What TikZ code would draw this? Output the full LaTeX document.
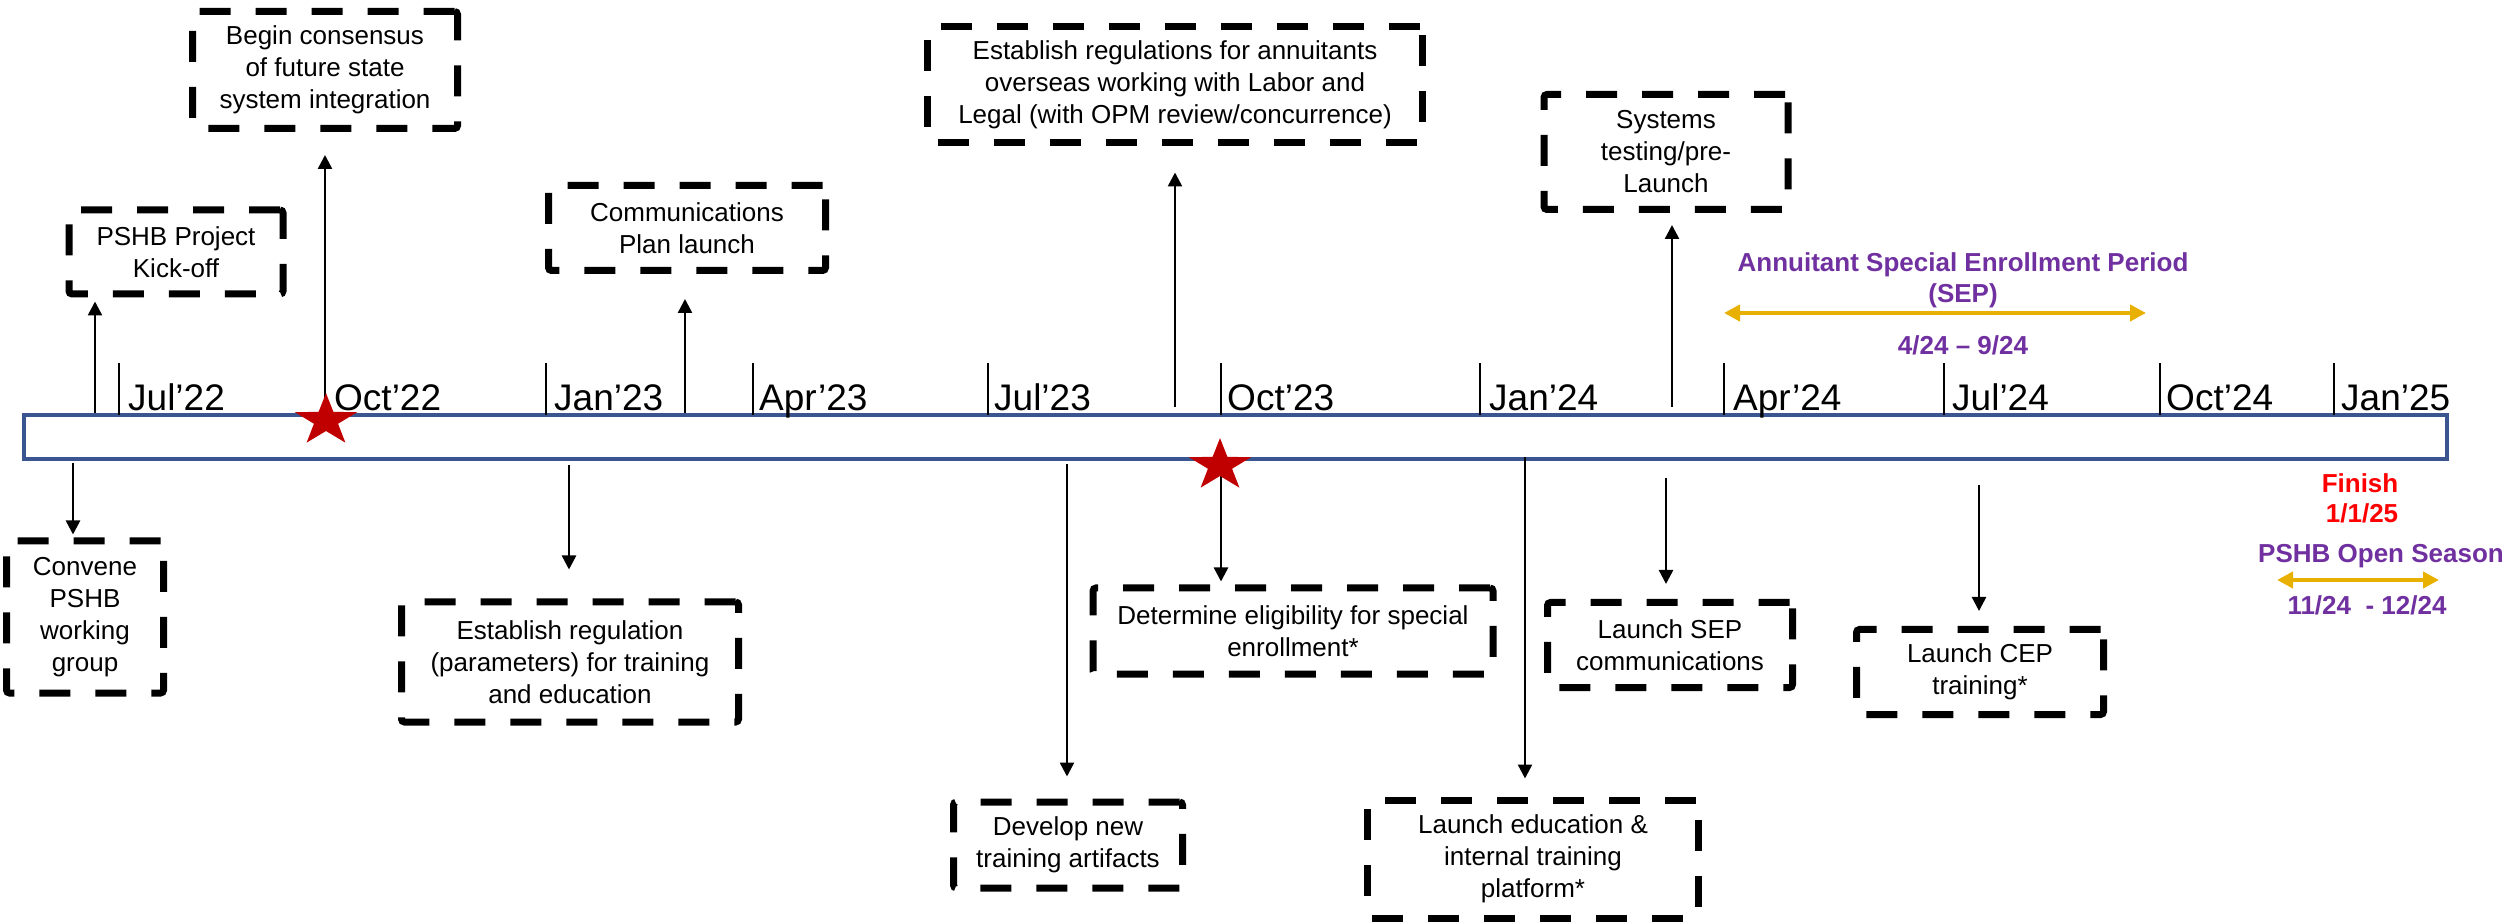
\documentclass[tikz,border=0pt]{standalone}
\usepackage{fontspec}
\setmainfont{Liberation Sans}
\usetikzlibrary{arrows.meta,shapes.geometric,calc}
\definecolor{barblue}{HTML}{3A5590}
\definecolor{starred}{HTML}{C00000}
\definecolor{seppurple}{HTML}{7030A0}
\definecolor{periodgold}{HTML}{E8B000}
\tikzset{
    timebar/.style={draw=barblue, line width=4pt, fill=white, minimum width=2423pt, minimum height=44pt, inner sep=0pt},
    monthtick/.style={line width=2.75pt},
    month/.style={anchor=base west, inner sep=0pt, font=\fontsize{37}{44}\selectfont},
    milestone/.style={draw, line width=7pt, dash pattern=on 31pt off 25pt, rounded corners=3pt, align=center, inner sep=0pt, font=\fontsize{26}{32}\selectfont},
    event/.style={->, >={Triangle[length=14pt, width=14pt]}, line width=2.5pt},
    redstar/.style={star, star points=5, star point ratio=2.6, fill=starred, minimum size=66pt, inner sep=0pt, transform shape},
    period/.style={<->, >={Triangle[length=16pt, width=16pt]}, line width=4pt, periodgold},
    note/.style={anchor=base, inner sep=0pt, font=\bfseries\fontsize{26}{32}\selectfont, seppurple}
}
\begin{document}
\begin{tikzpicture}[x=1pt, y=1pt]
\useasboundingbox (0,0) rectangle (2509,922);

% time line
\node[timebar] (bar) at (1235.5,485) {};

% quarters
\draw[monthtick] (119,507) -- (119,559);
\node[month] (jul22) at (128,511) {Jul’22};
\node[month] (oct22) at (334,511) {Oct’22};
\draw[monthtick] (546,507) -- (546,559);
\node[month] (jan23) at (554,511) {Jan’23};
\draw[monthtick] (753,507) -- (753,559);
\node[month] (apr23) at (759,511) {Apr’23};
\draw[monthtick] (988,507) -- (988,559);
\node[month] (jul23) at (994,511) {Jul’23};
\draw[monthtick] (1221,507) -- (1221,559);
\node[month] (oct23) at (1227,511) {Oct’23};
\draw[monthtick] (1480,507) -- (1480,559);
\node[month] (jan24) at (1489,511) {Jan’24};
\draw[monthtick] (1724,507) -- (1724,559);
\node[month] (apr24) at (1733,511) {Apr’24};
\draw[monthtick] (1944,507) -- (1944,559);
\node[month] (jul24) at (1952,511) {Jul’24};
\draw[monthtick] (2160,507) -- (2160,559);
\node[month] (oct24) at (2166,511) {Oct’24};
\draw[monthtick] (2334,507) -- (2334,559);
\node[month] (jan25) at (2341,511) {Jan’25};

% milestones above the line
\node[milestone, minimum width=265pt, minimum height=117pt] (consensus) at (325,852) {Begin consensus\\of future state\\system integration};
\node[milestone, minimum width=214pt, minimum height=84pt] (kickoff) at (176,670) {PSHB Project\\Kick-off};
\node[milestone, minimum width=277pt, minimum height=85pt] (comms) at (687,694) {Communications\\Plan launch};
\node[milestone, minimum width=495pt, minimum height=116pt] (annuitants) at (1175,837) {Establish regulations for annuitants\\overseas working with Labor and\\Legal (with OPM review/concurrence)};
\node[milestone, minimum width=244pt, minimum height=115pt] (systems) at (1666,770) {Systems\\testing/pre-\\Launch};

% milestones below the line
\node[milestone, minimum width=157pt, minimum height=152pt] (convene) at (85,305) {Convene\\PSHB\\working\\group};
\node[milestone, minimum width=337pt, minimum height=120pt] (regulation) at (570,260) {Establish regulation\\(parameters) for training\\and education};
\node[milestone, minimum width=229pt, minimum height=86pt] (artifacts) at (1068,77) {Develop new\\training artifacts};
\node[milestone, minimum width=400pt, minimum height=86pt] (eligibility) at (1293,291) {Determine eligibility for special\\enrollment*};
\node[milestone, minimum width=331pt, minimum height=118pt] (platform) at (1533,63) {Launch education \&\\internal training\\platform*};
\node[milestone, minimum width=245pt, minimum height=85pt] (sepcomms) at (1670,277) {Launch SEP\\communications};
\node[milestone, minimum width=247pt, minimum height=85pt] (cep) at (1980,250) {Launch CEP\\training*};

% where the arrows leave the line
\coordinate (kickbase) at (95,509);
\coordinate (consbase) at (325,505);
\coordinate (commsbase) at (685,509);
\coordinate (annbase) at (1175,515);
\coordinate (sysbase) at (1672,515);
\coordinate (convbase) at (73,459);
\coordinate (regbase) at (569,457);
\coordinate (artbase) at (1067,458);
\coordinate (eligbase) at (1221,459);
\coordinate (platbase) at (1525,465);
\coordinate (sepbase) at (1666,444);
\coordinate (cepbase) at (1979,437);

\draw[event, shorten >=4pt] (kickbase) -- (kickbase |- kickoff.south);
\draw[event, shorten >=23pt] (consbase) -- (consbase |- consensus.south);
\draw[event, shorten >=25pt] (commsbase) -- (commsbase |- comms.south);
\draw[event, shorten >=26pt] (annbase) -- (annbase |- annuitants.south);
\draw[event, shorten >=12pt] (sysbase) -- (sysbase |- systems.south);
\draw[event, shorten >=3pt] (convbase) -- (convbase |- convene.north);
\draw[event, shorten >=29pt] (regbase) -- (regbase |- regulation.north);
\draw[event, shorten >=22pt] (artbase) -- (artbase |- artifacts.north);
\draw[event, shorten >=3pt] (eligbase) -- (eligbase |- eligibility.north);
\draw[event, shorten >=18pt] (platbase) -- (platbase |- platform.north);
\draw[event, shorten >=15pt] (sepbase) -- (sepbase |- sepcomms.north);
\draw[event, shorten >=15pt] (cepbase) -- (cepbase |- cep.north);

% key dates
\begin{scope}[shift={(326,501.5)}, yscale=0.83]
  \node[redstar] (start) at (0,0) {};
\end{scope}
\begin{scope}[shift={(1220,456.5)}, yscale=0.83]
  \node[redstar] (decision) at (0,0) {};
\end{scope}

% enrollment periods
\node[note] (septitle) at (1963,650) {Annuitant Special Enrollment Period};
\node[note] (sepshort) at (1963,619) {(SEP)};
\coordinate (sepfrom) at (1724,609);
\coordinate (septo) at (2146,609);
\draw[period] (sepfrom) -- (septo);
\node[note] (sepdates) at (1963,567) {4/24 – 9/24};

\node[note, red] (finish) at (2360,429) {Finish};
\node[note, red] (finishdate) at (2362,399) {1/1/25};
\node[note] (openseason) at (2381,359) {PSHB Open Season};
\coordinate (osfrom) at (2277,342);
\coordinate (osto) at (2439,342);
\draw[period] (osfrom) -- (osto);
\node[note] (osdates) at (2367,308) {11/24\ \ - 12/24};
\end{tikzpicture}
\end{document}
